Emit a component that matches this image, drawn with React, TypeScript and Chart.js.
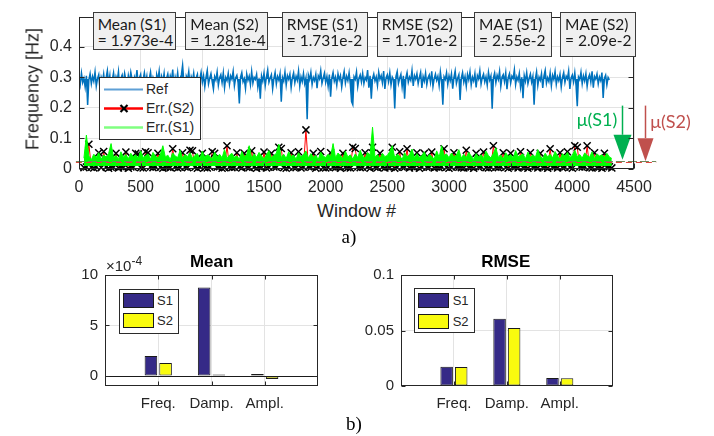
import React, { useEffect, useRef } from 'react';
import { Chart, registerables } from 'chart.js';
Chart.register(...registerables);

// ---------------- DATA ----------------
const REF_START = 0;
const REF_STEP = 10;
const REF = [
  0.301, 0.276, 0.314, 0.283, 0.297, 0.268, 0.305, 0.209, 0.292, 0.312,
  0.279, 0.303, 0.287, 0.318, 0.271, 0.296, 0.309, 0.262, 0.300, 0.285,
  0.311, 0.274, 0.298, 0.322, 0.281, 0.306, 0.250, 0.293, 0.315, 0.277,
  0.302, 0.288, 0.319, 0.266, 0.297, 0.308, 0.280, 0.313, 0.291, 0.272,
  0.306, 0.284, 0.317, 0.295, 0.263, 0.301, 0.289, 0.324, 0.276, 0.299,
  0.310, 0.270, 0.293, 0.315, 0.282, 0.304, 0.259, 0.296, 0.318, 0.279,
  0.300, 0.287, 0.245, 0.309, 0.292, 0.321, 0.274, 0.303, 0.285, 0.313,
  0.268, 0.297, 0.311, 0.280, 0.305, 0.290, 0.326, 0.264, 0.301, 0.283,
  0.316, 0.275, 0.298, 0.308, 0.340, 0.286, 0.240, 0.304, 0.293, 0.319,
  0.271, 0.302, 0.288, 0.314, 0.279, 0.299, 0.310, 0.257, 0.295, 0.317,
  0.284, 0.306, 0.269, 0.301, 0.323, 0.278, 0.297, 0.312, 0.286, 0.261,
  0.303, 0.291, 0.318, 0.274, 0.299, 0.309, 0.282, 0.315, 0.266, 0.300,
  0.289, 0.313, 0.277, 0.305, 0.294, 0.320, 0.272, 0.298, 0.307, 0.283,
  0.214, 0.301, 0.316, 0.285, 0.296, 0.263, 0.311, 0.290, 0.304, 0.276,
  0.319, 0.281, 0.300, 0.293, 0.310, 0.268, 0.297, 0.230, 0.305, 0.287,
  0.314, 0.273, 0.302, 0.325, 0.284, 0.298, 0.309, 0.262, 0.296, 0.316,
  0.278, 0.303, 0.291, 0.312, 0.220, 0.300, 0.287, 0.318, 0.275, 0.306,
  0.294, 0.311, 0.266, 0.299, 0.315, 0.282, 0.304, 0.290, 0.321, 0.271,
  0.302, 0.286, 0.313, 0.279, 0.298, 0.162, 0.307, 0.292, 0.317, 0.276,
  0.300, 0.289, 0.310, 0.264, 0.305, 0.295, 0.322, 0.280, 0.297, 0.314,
  0.283, 0.303, 0.271, 0.309, 0.236, 0.298, 0.316, 0.287, 0.301, 0.274,
  0.312, 0.292, 0.306, 0.268, 0.299, 0.320, 0.281, 0.304, 0.289, 0.315,
  0.277, 0.220, 0.210, 0.302, 0.293, 0.318, 0.270, 0.297, 0.308, 0.285,
  0.313, 0.279, 0.300, 0.291, 0.324, 0.266, 0.305, 0.230, 0.296, 0.311,
  0.288, 0.302, 0.273, 0.317, 0.294, 0.306, 0.282, 0.321, 0.262, 0.299,
  0.309, 0.286, 0.315, 0.275, 0.301, 0.292, 0.198, 0.303, 0.319, 0.280,
  0.297, 0.310, 0.269, 0.305, 0.230, 0.298, 0.316, 0.284, 0.301, 0.290,
  0.323, 0.272, 0.306, 0.294, 0.312, 0.279, 0.300, 0.317, 0.265, 0.303,
  0.287, 0.314, 0.276, 0.299, 0.308, 0.283, 0.320, 0.270, 0.296, 0.311,
  0.290, 0.304, 0.273, 0.318, 0.286, 0.210, 0.302, 0.293, 0.315, 0.277,
  0.305, 0.289, 0.312, 0.263, 0.300, 0.321, 0.280, 0.297, 0.309, 0.226,
  0.298, 0.316, 0.284, 0.303, 0.271, 0.310, 0.292, 0.318, 0.275, 0.301,
  0.288, 0.313, 0.267, 0.306, 0.295, 0.322, 0.278, 0.300, 0.311, 0.285,
  0.302, 0.274, 0.317, 0.291, 0.305, 0.197, 0.298, 0.314, 0.282, 0.307,
  0.293, 0.320, 0.270, 0.301, 0.309, 0.286, 0.315, 0.261, 0.299, 0.312,
  0.281, 0.304, 0.296, 0.325, 0.276, 0.302, 0.290, 0.313, 0.268, 0.300,
  0.231, 0.306, 0.287, 0.316, 0.279, 0.297, 0.311, 0.284, 0.303, 0.210,
  0.294, 0.318, 0.273, 0.301, 0.290, 0.312, 0.265, 0.305, 0.323, 0.280,
  0.299, 0.286, 0.314, 0.272, 0.307, 0.293, 0.319, 0.277, 0.302, 0.289,
  0.310, 0.268, 0.300, 0.316, 0.283, 0.304, 0.295, 0.321, 0.262, 0.298,
  0.308, 0.285, 0.315, 0.274, 0.205, 0.301, 0.292, 0.317, 0.279, 0.305,
  0.288, 0.312, 0.270, 0.299, 0.309, 0.284, 0.320, 0.266, 0.303, 0.294,
  0.311, 0.278, 0.301, 0.289, 0.316, 0.232, 0.297, 0.307, 0.275, 0.300,
  0.292,
];

const ERR_START = 40;
const ERR_STEP = 20;
const ERR_S1 = [
  0.034, 0.110, 0.041, 0.029, 0.047, 0.036, 0.052, 0.031, 0.044, 0.038,
  0.049, 0.082, 0.035, 0.043, 0.030, 0.055, 0.037, 0.046, 0.032, 0.050,
  0.039, 0.045, 0.033, 0.058, 0.036, 0.042, 0.048, 0.031, 0.053, 0.040,
  0.035, 0.047, 0.075, 0.038, 0.044, 0.030, 0.051, 0.041, 0.036, 0.060,
  0.033, 0.046, 0.039, 0.052, 0.034, 0.043, 0.049, 0.032, 0.057, 0.037,
  0.045, 0.040, 0.031, 0.054, 0.038, 0.047, 0.035, 0.062, 0.033, 0.044,
  0.050, 0.036, 0.042, 0.030, 0.056, 0.039, 0.046, 0.075, 0.034, 0.048,
  0.037, 0.053, 0.041, 0.032, 0.045, 0.059, 0.035, 0.043, 0.050, 0.080,
  0.036, 0.047, 0.033, 0.055, 0.040, 0.044, 0.031, 0.052, 0.038, 0.046,
  0.058, 0.034, 0.049, 0.037, 0.043, 0.030, 0.054, 0.041, 0.036, 0.047,
  0.039, 0.082, 0.035, 0.051, 0.042, 0.033, 0.057, 0.038, 0.045, 0.031,
  0.048, 0.036, 0.060, 0.040, 0.034, 0.053, 0.044, 0.136, 0.037, 0.046,
  0.032, 0.050, 0.039, 0.043, 0.056, 0.075, 0.035, 0.047, 0.041, 0.030,
  0.052, 0.038, 0.045, 0.064, 0.034, 0.049, 0.036, 0.042, 0.055, 0.033,
  0.046, 0.040, 0.031, 0.058, 0.037, 0.075, 0.043, 0.048, 0.035, 0.051,
  0.039, 0.044, 0.062, 0.034, 0.047, 0.036, 0.053, 0.041, 0.030, 0.049,
  0.038, 0.045, 0.033, 0.057, 0.042, 0.035, 0.050, 0.068, 0.037, 0.044,
  0.031, 0.052, 0.040, 0.046, 0.034, 0.059, 0.039, 0.043, 0.048, 0.032,
  0.054, 0.037, 0.045, 0.036, 0.062, 0.041, 0.033, 0.050, 0.038, 0.047,
  0.035, 0.056, 0.042, 0.030, 0.049, 0.040, 0.053, 0.036, 0.044, 0.060,
  0.039, 0.046, 0.034, 0.051, 0.043, 0.037, 0.055, 0.032, 0.048, 0.041,
  0.045, 0.036, 0.050, 0.038, 0.033,
];
const ERR_S2 = [
  0.003, 0.005, 0.080, 0.004, 0.002, 0.006, 0.052, 0.003, 0.056, 0.005,
  0.001, 0.004, 0.004, 0.050, 0.002, 0.006, 0.003, 0.054, 0.001, 0.005,
  0.004, 0.050, 0.048, 0.003, 0.002, 0.055, 0.052, 0.005, 0.003, 0.006,
  0.050, 0.004, 0.001, 0.005, 0.004, 0.003, 0.065, 0.006, 0.002, 0.004,
  0.052, 0.005, 0.003, 0.060, 0.058, 0.004, 0.001, 0.006, 0.050, 0.003,
  0.002, 0.005, 0.055, 0.050, 0.004, 0.006, 0.001, 0.003, 0.075, 0.005,
  0.003, 0.004, 0.052, 0.006, 0.002, 0.050, 0.004, 0.003, 0.058, 0.005,
  0.001, 0.006, 0.003, 0.054, 0.002, 0.004, 0.050, 0.005, 0.004, 0.070,
  0.066, 0.003, 0.001, 0.006, 0.052, 0.004, 0.003, 0.055, 0.002, 0.005,
  0.127, 0.006, 0.004, 0.050, 0.001, 0.005, 0.056, 0.003, 0.002, 0.004,
  0.052, 0.005, 0.003, 0.006, 0.001, 0.050, 0.004, 0.003, 0.002, 0.070,
  0.066, 0.005, 0.003, 0.004, 0.052, 0.006, 0.001, 0.070, 0.004, 0.003,
  0.050, 0.005, 0.002, 0.006, 0.003, 0.070, 0.001, 0.004, 0.055, 0.005,
  0.004, 0.065, 0.002, 0.006, 0.003, 0.052, 0.001, 0.005, 0.050, 0.004,
  0.004, 0.054, 0.002, 0.005, 0.003, 0.006, 0.065, 0.004, 0.001, 0.005,
  0.052, 0.006, 0.004, 0.003, 0.002, 0.060, 0.003, 0.005, 0.001, 0.050,
  0.004, 0.006, 0.054, 0.003, 0.002, 0.005, 0.075, 0.004, 0.003, 0.006,
  0.052, 0.004, 0.001, 0.050, 0.004, 0.006, 0.002, 0.055, 0.003, 0.005,
  0.001, 0.052, 0.004, 0.006, 0.002, 0.050, 0.003, 0.005, 0.001, 0.065,
  0.004, 0.006, 0.002, 0.052, 0.003, 0.005, 0.055, 0.004, 0.001, 0.075,
  0.070, 0.005, 0.004, 0.006, 0.075, 0.003, 0.002, 0.052, 0.003, 0.005,
  0.001, 0.050, 0.004, 0.006, 0.002,
];

const TOP_X_TICKS = [0, 500, 1000, 1500, 2000, 2500, 3000, 3500, 4000, 4500];
const TOP_Y_TICKS = [0, 0.1, 0.2, 0.3, 0.4];
const MAE_S1 = 0.0255;
const MAE_S2 = 0.0209;
const MU_ARROW_X = [4405, 4590]; // window position of the arrows (S1, S2)
const MU_ARROW_TOP = 0.207;
const DASH_RANGE = [-25, 4680];

const STAT_TITLES = ['Mean (S1)', 'Mean (S2)', 'RMSE (S1)', 'RMSE (S2)', 'MAE (S1)', 'MAE (S2)'];
const STAT_VALUES = ['= 1.973e-4', '= 1.281e-4', '= 1.731e-2', '= 1.701e-2', '= 2.55e-2', '= 2.09e-2'];

const CATEGORIES = ['Freq.', 'Damp.', 'Ampl.'];
const MEAN_S1 = [1.973, 8.75, 0.2]; // ×10^-4
const MEAN_S2 = [1.281, 0.15, -0.3]; // ×10^-4
const MEAN_TICKS = [0, 5, 10];
const RMSE_S1 = [0.01731, 0.0605, 0.0072];
const RMSE_S2 = [0.01701, 0.0522, 0.0069];
const RMSE_TICKS = [0, 0.05, 0.1];

// ---------------- STYLE ----------------
const SANS = '"Liberation Sans", Arial, Helvetica, sans-serif';
const BOXFONT = 'Lato, "Open Sans", sans-serif';
const TXT = '#262626';
const GRID = '#e3e3e3';
const S1_COLOR = '#352a87';
const S2_COLOR = '#f9fb0e';
const GREEN_MU = '#00b050';
const RED_MU = '#c0504d';

function framePlugin(xTicks: number[], yTicks: number[], tickLen: number, extra?: (chart: any) => void) {
  return {
    id: 'matlabFrame',
    afterDatasetsDraw(chart: any) {
      const { ctx, chartArea: a, scales } = chart;
      const x = scales.x;
      const y = scales.y;
      ctx.save();
      if (extra) extra(chart);
      const L = Math.round(a.left) + 0.5;
      const R = Math.round(a.right) - 0.5;
      const T = Math.round(a.top) + 0.5;
      const B = Math.round(a.bottom) - 0.5;
      ctx.strokeStyle = TXT;
      ctx.lineWidth = 1;
      ctx.setLineDash([]);
      ctx.beginPath();
      for (const v of xTicks) {
        const px = Math.round(x.getPixelForValue(v)) + 0.5;
        ctx.moveTo(px, B); ctx.lineTo(px, B - tickLen);
        ctx.moveTo(px, T); ctx.lineTo(px, T + tickLen);
      }
      for (const v of yTicks) {
        const py = Math.round(y.getPixelForValue(v)) + 0.5;
        ctx.moveTo(L, py); ctx.lineTo(L + tickLen, py);
        ctx.moveTo(R, py); ctx.lineTo(R - tickLen, py);
      }
      ctx.stroke();
      ctx.strokeRect(L, T, R - L, B - T);
      ctx.restore();
    },
  };
}

function drawTopExtras(chart: any) {
  const { ctx, scales: { x, y } } = chart;
  const x0 = x.getPixelForValue(DASH_RANGE[0]);
  const x1 = x.getPixelForValue(DASH_RANGE[1]);
  ctx.lineWidth = 1;
  ctx.setLineDash([9, 3]);
  ctx.strokeStyle = '#70875a';
  let py = Math.round(y.getPixelForValue(MAE_S1)) + 0.5;
  ctx.beginPath(); ctx.moveTo(x0, py); ctx.lineTo(x1, py); ctx.stroke();
  ctx.setLineDash([6, 4]);
  ctx.strokeStyle = '#e0443c';
  py = Math.round(y.getPixelForValue(MAE_S2)) + 0.5;
  ctx.beginPath(); ctx.moveTo(x0, py); ctx.lineTo(x1, py); ctx.stroke();
  ctx.setLineDash([]);
  const arrows = [
    { xv: MU_ARROW_X[0], target: MAE_S1, color: GREEN_MU, head: 25, half: 9 },
    { xv: MU_ARROW_X[1], target: MAE_S2, color: RED_MU, head: 23, half: 8 },
  ];
  for (const ar of arrows) {
    const px = Math.round(x.getPixelForValue(ar.xv)) + 0.5;
    const top = y.getPixelForValue(MU_ARROW_TOP);
    const tip = y.getPixelForValue(ar.target) - 1;
    ctx.strokeStyle = ar.color;
    ctx.fillStyle = ar.color;
    ctx.lineWidth = 1.5;
    ctx.beginPath(); ctx.moveTo(px, top); ctx.lineTo(px, tip - ar.head); ctx.stroke();
    ctx.beginPath();
    ctx.moveTo(px - ar.half, tip - ar.head);
    ctx.lineTo(px + ar.half, tip - ar.head);
    ctx.lineTo(px, tip);
    ctx.closePath();
    ctx.fill();
  }
}

function meanBaseline(chart: any) {
  const { ctx, chartArea: a, scales: { y } } = chart;
  const py = Math.round(y.getPixelForValue(0)) + 0.5;
  ctx.strokeStyle = '#1a1a1a';
  ctx.lineWidth = 1;
  ctx.beginPath(); ctx.moveTo(a.left, py); ctx.lineTo(a.right, py); ctx.stroke();
}

function useChart(ref: React.RefObject<HTMLCanvasElement>, makeConfig: () => any) {
  useEffect(() => {
    if (!ref.current) return;
    const chart = new Chart(ref.current, makeConfig());
    return () => chart.destroy();
  }, []);
}

function topConfig() {
  const refPts = REF.map((v, i) => ({ x: REF_START + i * REF_STEP, y: v }));
  const s1Pts = ERR_S1.map((v, i) => ({ x: ERR_START + i * ERR_STEP, y: v }));
  const s2Pts = ERR_S2.map((v, i) => ({ x: ERR_START + i * ERR_STEP, y: v }));
  return {
    type: 'line',
    data: {
      datasets: [
        { label: 'Err.(S1)', data: s1Pts, borderColor: '#00ff00', backgroundColor: '#00ff00', borderWidth: 1, pointRadius: 0, fill: { value: 0.008 }, order: 0 },
        { label: 'Err.(S2)', data: s2Pts, borderColor: '#ff0000', borderWidth: 1, pointStyle: 'crossRot', pointRadius: 5, pointBorderColor: '#000', pointBackgroundColor: '#000', pointBorderWidth: 1.5, fill: false, order: 1, clip: { left: 0, top: 0, right: 0, bottom: 5 } },
        { label: 'Ref', data: refPts, borderColor: '#0072bd', backgroundColor: '#0072bd', borderWidth: 1.5, pointRadius: 0, fill: { value: 0.295 }, order: 2 },
      ],
    },
    options: {
      animation: false,
      responsive: false,
      maintainAspectRatio: false,
      events: [],
      layout: { padding: { left: 0, right: 80, top: 9.5, bottom: 0 } },
      plugins: { legend: { display: false }, tooltip: { enabled: false } },
      scales: {
        x: {
          type: 'linear', min: 0, max: 4500,
          afterBuildTicks: (s: any) => { s.ticks = TOP_X_TICKS.map((v) => ({ value: v })); },
          afterFit: (s: any) => { s.height = 31.5; },
          ticks: { color: TXT, font: { family: SANS, size: 16 }, padding: 9, maxRotation: 0, autoSkip: false, callback: (v: any) => String(v) },
          grid: { color: GRID, drawTicks: false },
          border: { display: false },
        },
        y: {
          type: 'linear', min: 0, max: 0.5,
          afterBuildTicks: (s: any) => { s.ticks = TOP_Y_TICKS.map((v) => ({ value: v })); },
          afterFit: (s: any) => { s.width = 79; },
          ticks: { color: TXT, font: { family: SANS, size: 16 }, padding: 7, callback: (v: any) => String(v) },
          grid: { color: GRID, drawTicks: false },
          border: { display: false },
        },
      },
    },
    plugins: [framePlugin(TOP_X_TICKS, TOP_Y_TICKS, 5, drawTopExtras)],
  };
}

function barConfig(s1: number[], s2: number[], yMin: number, yMax: number, yTicks: number[], yWidth: number, padRight: number, baseline: boolean) {
  const labels = ['', ...CATEGORIES, ''];
  return {
    type: 'bar',
    data: {
      labels,
      datasets: [
        { label: 'S1', data: [null, ...s1, null], backgroundColor: S1_COLOR, borderColor: '#1a1a1a', borderWidth: 1, borderSkipped: false },
        { label: 'S2', data: [null, ...s2, null], backgroundColor: S2_COLOR, borderColor: '#1a1a1a', borderWidth: 1, borderSkipped: false },
      ],
    },
    options: {
      animation: false,
      responsive: false,
      maintainAspectRatio: false,
      events: [],
      layout: { padding: { left: 0, right: padRight, top: 35, bottom: 0 } },
      plugins: { legend: { display: false }, tooltip: { enabled: false } },
      datasets: { bar: { categoryPercentage: 0.55, barPercentage: 0.86 } },
      scales: {
        x: {
          type: 'category', offset: false,
          afterFit: (s: any) => { s.height = 50; },
          ticks: { color: TXT, font: { family: SANS, size: 15 }, padding: 9, maxRotation: 0, autoSkip: false },
          grid: { offset: false, drawTicks: false, color: (c: any) => (c.index >= 1 && c.index <= CATEGORIES.length ? GRID : 'rgba(0,0,0,0)') },
          border: { display: false },
        },
        y: {
          type: 'linear', min: yMin, max: yMax,
          afterBuildTicks: (s: any) => { s.ticks = yTicks.map((v) => ({ value: v })); },
          afterFit: (s: any) => { s.width = yWidth; },
          ticks: { color: TXT, font: { family: SANS, size: 15 }, padding: 7, callback: (v: any) => String(v) },
          grid: { drawTicks: false, color: (c: any) => (c.tick && c.tick.value !== yTicks[0] && c.tick.value !== yTicks[yTicks.length - 1] ? GRID : 'rgba(0,0,0,0)') },
          border: { display: false },
        },
      },
    },
    plugins: [framePlugin([1, 2, 3], yTicks, 4, baseline ? meanBaseline : undefined)],
  };
}

const abs = (l: number, t: number, extra: any = {}): React.CSSProperties => ({ position: 'absolute', left: l, top: t, ...extra });

function CText({ cx, cy, children, style }: any) {
  return (
    <div style={{ position: 'absolute', left: cx, top: cy, transform: 'translate(-50%, -50%)', whiteSpace: 'nowrap', lineHeight: 1, ...style }}>
      {children}
    </div>
  );
}

const BOXES = [
  { l: 92.7, w: 83.3, h: 38 },
  { l: 185.3, w: 82.4, h: 38 },
  { l: 281.7, w: 86.6, h: 45.6 },
  { l: 376.7, w: 85.6, h: 45.6 },
  { l: 474, w: 77.7, h: 45.6 },
  { l: 560, w: 76, h: 45.6 },
];

function BarLegend({ left, top, w, h, px, pw, y1, y2, tx }: any) {
  return (
    <div style={abs(left, top, { width: w, height: h, background: '#fff', border: '1px solid #2b2b2b', boxSizing: 'border-box' })}>
      <div style={abs(px - 1, y1 - 1, { width: pw, height: 15, background: S1_COLOR, border: '1px solid #1a1a1a', boxSizing: 'border-box' })} />
      <div style={abs(px - 1, y2 - 1, { width: pw, height: 15, background: S2_COLOR, border: '1px solid #1a1a1a', boxSizing: 'border-box' })} />
      <div style={abs(tx - 1, y1 - 1, { font: `13px ${SANS}`, color: TXT, lineHeight: '15px' })}>S1</div>
      <div style={abs(tx - 1, y2 - 1, { font: `13px ${SANS}`, color: TXT, lineHeight: '15px' })}>S2</div>
    </div>
  );
}

export default function App() {
  const topRef = useRef<HTMLCanvasElement>(null);
  const meanRef = useRef<HTMLCanvasElement>(null);
  const rmseRef = useRef<HTMLCanvasElement>(null);

  useChart(topRef, topConfig);
  useChart(meanRef, () => barConfig(MEAN_S1, MEAN_S2, -1, 10, MEAN_TICKS, 105, 39, true));
  useChart(rmseRef, () => barConfig(RMSE_S1, RMSE_S2, 0, 0.1, RMSE_TICKS, 44, 101.3, false));

  return (
    <div style={{ position: 'absolute', left: 0, top: 0, width: 714, height: 436, background: '#fff', overflow: 'hidden', fontFamily: SANS }}>
      <canvas ref={topRef} width={714} height={200} style={abs(0, 0, { width: 714, height: 200 })} />
      <canvas ref={meanRef} width={357} height={196} style={abs(0, 240, { width: 357, height: 196 })} />
      <canvas ref={rmseRef} width={357} height={196} style={abs(357, 240, { width: 357, height: 196 })} />

      {BOXES.map((b, i) => (
        <div key={i} style={abs(b.l, 11.7, { width: b.w, height: b.h, background: '#f0f0f0', border: '1px solid #3c3c3c', boxSizing: 'border-box', padding: '3px 0 0 4px', font: `15.5px ${BOXFONT}`, color: '#1a1a1a', lineHeight: '16.5px', whiteSpace: 'nowrap' })}>
          <div>{STAT_TITLES[i]}</div>
          <div>{STAT_VALUES[i]}</div>
        </div>
      ))}

      <div style={abs(99, 77, { width: 102, height: 63, background: '#fff', border: '1px solid #2b2b2b', boxSizing: 'border-box' })}>
        <svg width={100} height={61} style={abs(0, 0)}>
          <line x1={4} y1={11.5} x2={43} y2={11.5} stroke="#5fa0d6" strokeWidth={2} />
          <line x1={4} y1={30.5} x2={43} y2={30.5} stroke="#ff0000" strokeWidth={2.5} />
          <line x1={20.5} y1={27} x2={27.5} y2={34} stroke="#000" strokeWidth={2.2} />
          <line x1={27.5} y1={27} x2={20.5} y2={34} stroke="#000" strokeWidth={2.2} />
          <line x1={4} y1={49.5} x2={43} y2={49.5} stroke="#80ff80" strokeWidth={2.5} />
        </svg>
        <div style={abs(46, 3, { font: `14px ${SANS}`, color: TXT, lineHeight: '17px' })}>Ref</div>
        <div style={abs(46, 22, { font: `14px ${SANS}`, color: TXT, lineHeight: '17px' })}>Err.(S2)</div>
        <div style={abs(46, 41, { font: `14px ${SANS}`, color: TXT, lineHeight: '17px' })}>Err.(S1)</div>
      </div>

      <CText cx={597} cy={119} style={{ font: `18px ${BOXFONT}`, color: GREEN_MU }}>μ(S1)</CText>
      <CText cx={670.5} cy={121} style={{ font: `18px ${BOXFONT}`, color: RED_MU }}>μ(S2)</CText>

      <CText cx={32.5} cy={88.5} style={{ font: `18px ${SANS}`, color: TXT, transform: 'translate(-50%, -50%) rotate(-90deg)' }}>Frequency [Hz]</CText>
      <CText cx={356.5} cy={211} style={{ font: `18px ${SANS}`, color: TXT }}>Window #</CText>
      <CText cx={349} cy={237} style={{ font: `19px "Liberation Serif", "Times New Roman", serif`, color: '#000' }}>a)</CText>
      <CText cx={354} cy={424} style={{ font: `19px "Liberation Serif", "Times New Roman", serif`, color: '#000' }}>b)</CText>

      <CText cx={211.7} cy={262} style={{ font: `bold 17px ${SANS}`, color: '#000' }}>Mean</CText>
      <CText cx={505.7} cy={262} style={{ font: `bold 17px ${SANS}`, color: '#000' }}>RMSE</CText>
      <div style={abs(106, 258, { font: `15px ${SANS}`, color: TXT, whiteSpace: 'nowrap', lineHeight: '15px' })}>
        ×10<span style={{ fontSize: 12, position: 'relative', top: -6 }}>-4</span>
      </div>

      <BarLegend left={118.7} top={288.7} w={60} h={45} px={4} pw={31} y1={4} y2={24.6} tx={38.3} />
      <BarLegend left={414} top={288.3} w={61} h={45} px={4.3} pw={31} y1={5} y2={25.7} tx={38.7} />
    </div>
  );
}
